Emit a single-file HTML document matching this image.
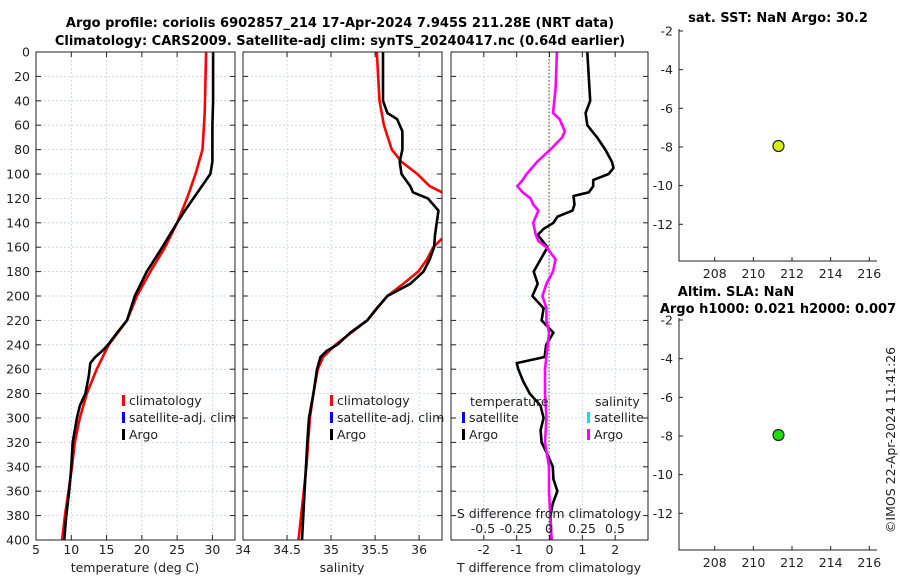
<!DOCTYPE html>
<html><head><meta charset="utf-8">
<style>
html,body{margin:0;padding:0;background:#fff;}
svg{display:block;font-family:"DejaVu Sans","Liberation Sans",sans-serif;}
</style></head>
<body>
<svg id="chart" width="900" height="580" viewBox="0 0 900 580" xmlns="http://www.w3.org/2000/svg">
<text x="340" y="27" text-anchor="middle" font-weight="bold" font-size="13">Argo profile: coriolis 6902857_214 17-Apr-2024 7.945S 211.28E (NRT data)</text>
<text x="340" y="45" text-anchor="middle" font-weight="bold" font-size="13">Climatology: CARS2009. Satellite-adj clim: synTS_20240417.nc (0.64d earlier)</text>
<text x="778" y="22" text-anchor="middle" font-weight="bold" font-size="13">sat. SST: NaN Argo: 30.2</text>
<text x="736" y="296" text-anchor="middle" font-weight="bold" font-size="13">Altim. SLA: NaN</text>
<text x="778" y="313" text-anchor="middle" font-weight="bold" font-size="13">Argo h1000: 0.021 h2000: 0.007</text>
<text transform="translate(895,440) rotate(-90)" text-anchor="middle" font-size="12.5" fill="#222">©IMOS 22-Apr-2024 11:41:26</text>
<g id="g"></g>
</svg>
<script>
// ---- data ----
const depthT = [0,40,60,80,90,100,110,120,130,140,160,180,200,220,230,240,245,250,255,265,280,290,300,320,340,360,380,400];
const argoTemp = [30.1,30.1,30.0,30.0,30.0,29.7,28.5,27.3,26.1,25.0,22.9,20.7,19.0,17.9,16.5,15.2,14.4,13.4,12.7,12.5,12.0,11.2,10.8,10.2,10.0,9.7,9.3,9.0];
const depthC = [0,50,80,100,120,140,160,180,200,220,240,260,280,300,320,340,360,380,400];
const climTemp = [29.1,28.9,28.6,27.6,26.4,25.0,23.3,21.2,19.3,17.9,15.3,13.6,12.2,11.2,10.5,10.1,9.6,9.1,8.7];
const depthS = [0,40,50,55,65,80,90,100,110,115,120,130,140,150,160,170,180,190,200,210,220,230,240,245,250,260,280,300,320,360,400];
const argoSal = [35.59,35.59,35.64,35.75,35.81,35.81,35.78,35.8,35.9,35.93,36.1,36.22,36.2,36.18,36.17,36.12,36.05,35.9,35.64,35.52,35.41,35.22,35.07,34.95,34.88,34.84,34.8,34.75,34.73,34.7,34.67];
const depthCS = [0,40,60,80,90,100,110,115,120,140,153,160,170,180,190,200,220,240,250,260,280,300,340,400];
const climSal = [35.52,35.55,35.6,35.69,35.8,35.98,36.12,36.26,36.35,36.45,36.26,36.16,36.09,35.99,35.82,35.64,35.41,35.05,34.91,34.85,34.8,34.76,34.72,34.63];
const depthDT = [0,40,50,60,70,80,90,95,100,105,110,115,118,125,130,135,140,145,150,160,170,180,190,200,210,220,230,240,250,255,260,270,280,290,300,310,320,330,340,350,360,370,380,400];
const tempDiff = [1.15,1.24,1.1,1.15,1.45,1.7,1.9,1.95,1.8,1.33,1.33,1.2,0.73,0.76,0.7,0.24,0.12,-0.18,-0.36,-0.06,-0.27,-0.48,-0.36,-0.52,-0.18,-0.24,0.12,-0.1,-0.15,-1.0,-0.95,-0.8,-0.6,-0.27,-0.18,-0.27,-0.24,-0.06,0.1,0.12,0.24,0.1,0.03,0.06];
const depthDS = [0,30,40,50,55,65,70,80,90,100,105,110,115,120,125,130,140,150,155,160,170,180,190,200,210,220,230,240,260,280,300,320,340,360,380,400];
const salDiff = [0.06,0.05,0.04,0.03,0.08,0.12,0.1,0.01,-0.09,-0.17,-0.2,-0.24,-0.2,-0.14,-0.12,-0.08,-0.12,-0.1,-0.08,-0.02,0.05,0.03,-0.02,-0.05,-0.02,-0.02,0.0,-0.01,-0.03,-0.03,-0.02,-0.03,0.0,0.0,0.01,0.02];
const depthTicks = [0,20,40,60,80,100,120,140,160,180,200,220,240,260,280,300,320,340,360,380,400];
const tempTicks = [5,10,15,20,25,30];
const salTicks = [34,34.5,35,35.5,36];
const salTickLabels = ["34","34.5","35","35.5","36"];
const tdTicks = [-2,-1,0,1,2];
const sdTicks = [-0.5,-0.25,0,0.25,0.5];
const sdTickLabels = ["-0.5","-0.25","0","0.25","0.5"];
const latTicks = [-2,-4,-6,-8,-10,-12];
const lonTicks = [208,210,212,214,216];
const floatLon = [211.3];
const floatLat = [-7.95];

// ---- helpers ----
const NS="http://www.w3.org/2000/svg";
const g=document.getElementById('g');
function mk(tag,attrs,parent){const e=document.createElementNS(NS,tag);for(const k in attrs)e.setAttribute(k,attrs[k]);(parent||g).appendChild(e);return e;}
const Y0=52,Y1=540;
const yD=d=>Y0+(d/400)*(Y1-Y0);
const panels=[
 {name:'temperature',x0:36,x1:235,min:5,max:33.2},
 {name:'salinity',x0:243,x1:442,min:34,max:36.26},
 {name:'difference',x0:451,x1:648,min:-3,max:3}
];
function sx(p,v){return p.x0+(v-p.min)/(p.max-p.min)*(p.x1-p.x0);}
const xSD=v=>549+v*132;

// clip paths
panels.forEach((p,i)=>{
 const cp=mk('clipPath',{id:'clip'+i});
 mk('rect',{x:p.x0,y:Y0,width:p.x1-p.x0,height:Y1-Y0},cp);
});

function grid(p,xs,xf,pi){
 depthTicks.forEach(d=>{
  const l=mk('line',{x1:p.x0,x2:p.x1,y1:yD(d),y2:yD(d),stroke:'#c8cce8','stroke-width':0.8,'stroke-dasharray':'2,2'});
  
  
 });
 xs.forEach(v=>{
  const x=xf(v);
  const l=mk('line',{x1:x,x2:x,y1:Y0,y2:Y1,stroke:'#c8cce8','stroke-width':0.8,'stroke-dasharray':'2,2'});
  
  
 });
}
function frame(p,xs,xf,labels,pi){
 const r=mk('rect',{x:p.x0,y:Y0,width:p.x1-p.x0,height:Y1-Y0,fill:'none',stroke:'#222','stroke-width':1});
 
 
 depthTicks.forEach(d=>{
  mk('line',{x1:p.x0,x2:p.x0+5,y1:yD(d),y2:yD(d),stroke:'#222'});
  mk('line',{x1:p.x1-5,x2:p.x1,y1:yD(d),y2:yD(d),stroke:'#222'});
 });
 xs.forEach((v,i)=>{
  const x=xf(v);
  mk('line',{x1:x,x2:x,y1:Y1,y2:Y1-5,stroke:'#222'});
  mk('line',{x1:x,x2:x,y1:Y0,y2:Y0+5,stroke:'#222'});
  const t=mk('text',{x:x,y:554,'text-anchor':'middle','font-size':12.5,fill:'#222'});
  t.textContent=labels[i];
  
  
 });
}
function line(p,pi,xv,dv,color,name,xf){
 const pts=xv.map((v,i)=>(xf?xf(v):sx(p,v)).toFixed(1)+','+yD(dv[i]).toFixed(1)).join(' ');
 const l=mk('polyline',{points:pts,fill:'none',stroke:color,'stroke-width':2.6,'stroke-linejoin':'round','clip-path':'url(#clip'+pi+')'});
 
 
}

// panel 1
const P1=panels[0];
grid(P1,tempTicks,v=>sx(P1,v),0);
line(P1,0,climTemp,depthC,'#ff0000','climatology-temp-line');
line(P1,0,argoTemp,depthT,'#000000','argo-temp-line');
frame(P1,tempTicks,v=>sx(P1,v),tempTicks.map(String),0);
depthTicks.forEach(d=>{
 const t=mk('text',{x:30,y:yD(d)+4.5,'text-anchor':'end','font-size':12.5,fill:'#222'});
 t.textContent=String(d);
 
 
});
// panel 2
const P2=panels[1];
grid(P2,salTicks,v=>sx(P2,v),1);
line(P2,1,climSal,depthCS,'#ff0000','climatology-salinity-line');
line(P2,1,argoSal,depthS,'#000000','argo-salinity-line');
frame(P2,salTicks,v=>sx(P2,v),salTickLabels,1);
// panel 3
const P3=panels[2];
grid(P3,tdTicks,v=>sx(P3,v),2);
const zl=mk('line',{x1:549,x2:549,y1:Y0,y2:Y1,stroke:'#4a5a30','stroke-width':1,'stroke-dasharray':'1.5,2'});


line(P3,2,tempDiff,depthDT,'#000000','argo-temp-difference-line');
line(P3,2,salDiff,depthDS,'#ff00ff','argo-salinity-difference-line',xSD);
frame(P3,tdTicks,v=>sx(P3,v),tdTicks.map(String),2);
sdTicks.forEach((v,i)=>{
 const t=mk('text',{x:xSD(v),y:533,'text-anchor':'middle','font-size':12.5,fill:'#222'});
 t.textContent=sdTickLabels[i];
 
 
});
function txt(x,y,s,name,anchor,size){const t=mk('text',{x:x,y:y,'text-anchor':anchor||'start','font-size':size||12.5,fill:'#222'});t.textContent=s;return t;}
txt(549,518,'S difference from climatology','salinity-diff-axis-title','middle');
txt(135,572,'temperature (deg C)','temperature-axis-title','middle');
txt(342,572,'salinity','salinity-axis-title','middle');
txt(549,572,'T difference from climatology','temp-diff-axis-title','middle');

// legends
function legItem(x,y,color,label,name){
 const r=mk('rect',{x:x,y:y-10,width:3,height:11,fill:color});
 
 
 txt(x+7,y,label,name+'-label');
}
[[122,'temperature'],[330,'salinity']].forEach(([lx,n])=>{
 legItem(lx,405,'#ff0000','climatology',n+'-legend-climatology');
 legItem(lx,422,'#0000ff','satellite-adj. clim',n+'-legend-satellite');
 legItem(lx,439,'#000000','Argo',n+'-legend-argo');
});
txt(470,406,'temperature','diff-legend-temperature-header');
legItem(462,422,'#0000ff','satellite','diff-legend-temp-satellite');
legItem(462,439,'#000000','Argo','diff-legend-temp-argo');
txt(595,406,'salinity','diff-legend-salinity-header');
legItem(587,422,'#00e5e5','satellite','diff-legend-sal-satellite');
legItem(587,439,'#ff00ff','Argo','diff-legend-sal-argo');

// map panels
function mapPanel(top,bottom,fill,name){
 const x0=679,x1=877;
 const latMin=-13.9,latMax=-2;
 const ly=v=>top+(latMax-v)/(latMax-latMin)*(bottom-top);
 const lx=v=>x0+(v-206.15)/(216.4-206.15)*(x1-x0);
 const ax=mk('polyline',{points:`${x0},${top-2} ${x0},${bottom} ${x1},${bottom}`,fill:'none',stroke:'#222','stroke-width':1});
 
 
 latTicks.forEach(v=>{
  mk('line',{x1:x0,x2:x0+4,y1:ly(v),y2:ly(v),stroke:'#222'});
  txt(x0-6,ly(v)+4.5,String(v),name+'-lat-tick-label','end');
 });
 lonTicks.forEach(v=>{
  mk('line',{x1:lx(v),x2:lx(v),y1:bottom,y2:bottom-4,stroke:'#222'});
  txt(lx(v),bottom+17,String(v),name+'-lon-tick-label','middle');
 });
 floatLon.forEach((v,i)=>{
  const c=mk('circle',{cx:lx(v),cy:ly(floatLat[i]),r:5.5,fill:fill,stroke:'#222','stroke-width':1.2});
  
  
 });
}
mapPanel(31,261,'#d8f000','sst-map');
mapPanel(320,550,'#22dd00','sla-map');
</script>
</body></html>
